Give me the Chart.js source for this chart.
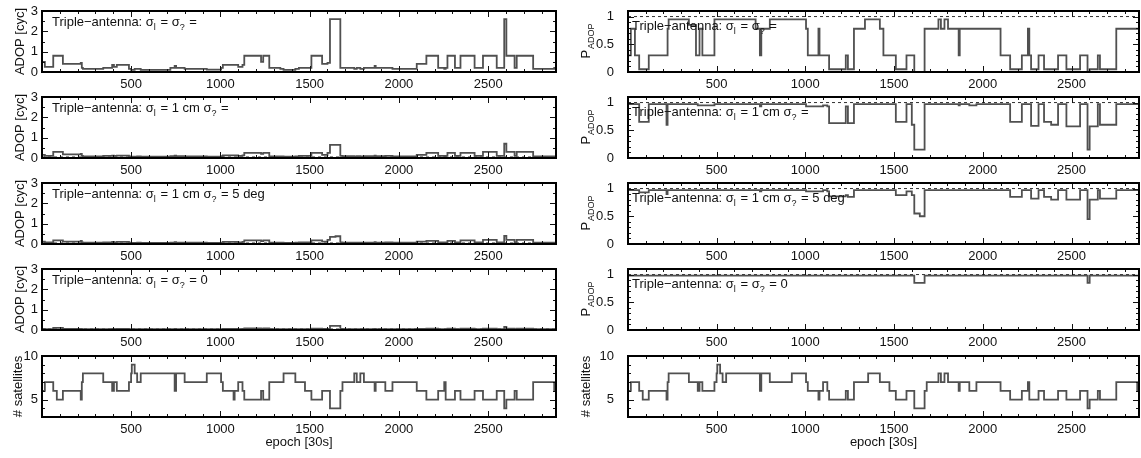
<!DOCTYPE html>
<html>
<head>
<meta charset="utf-8">
<script src="https://cdn.jsdelivr.net/npm/chart.js@4.4.1/dist/chart.umd.min.js"></script>
<style>
  html, body { margin: 0; padding: 0; background: #fff; }
  #wrap { position: relative; width: 1141px; height: 458px; overflow: hidden; }
  #wrap canvas { position: absolute; }
</style>
</head>
<body>
<div id="wrap"></div>
<script>
// epoch (30 s) at which each step begins; every series holds its value until the next one
const epochStart = [
  1, 17, 40, 64, 84, 118, 218, 224, 230, 344,
  384, 394, 404, 420, 488, 500, 504, 520, 534, 554,
  720, 744, 752, 800, 924, 1004, 1014, 1074, 1080, 1100,
  1124, 1134, 1228, 1240, 1274, 1336, 1354, 1420, 1440, 1474,
  1510, 1570, 1600, 1614, 1645, 1672, 1684, 1750, 1764, 1784,
  1804, 1864, 1870, 1924, 1964, 2100, 2154, 2220, 2254, 2262,
  2272, 2314, 2345, 2385, 2424, 2471, 2548, 2590, 2602, 2648,
  2660, 2752, 2870
];
const epochEnd = 2880;

const satellites = [
  6, 7, 7, 6, 5, 6, 5, 7, 8, 7,
  7, 6, 7, 6, 7, 8, 9, 8, 7, 8,
  8, 6, 8, 7, 8, 7, 6, 5, 6, 7,
  6, 5, 6, 5, 7, 7, 8, 7, 7, 6,
  5, 6, 6, 4, 4, 6, 7, 8, 7, 8,
  7, 6, 7, 6, 7, 6, 5, 6, 7, 5,
  5, 6, 5, 5, 6, 5, 6, 4, 5, 6,
  5, 7, 6
];

// ADOP [cyc]
const adopFree = [
  .5, .25, .25, .8, .8, .4, .45, .2, .15, .2,
  .2, .35, .25, .35, .15, .1, .1, .15, .15, .1,
  .2, .3, .2, .15, .12, .2, .35, .35, .35, .25,
  .35, .8, .5, .8, .2, .15, .1, .15, .2, .2,
  .8, .4, .45, 2.6, 2.6, .2, .2, .15, .2, .15,
  .2, .3, .2, .2, .15, .4, .8, .2, .15, .2,
  .8, .2, .8, .8, .2, .8, .2, 2.6, .8, .2,
  .8, .15, .2
];
const adop1cm = [
  .15, .1, .1, .3, .3, .18, .2, .1, .08, .1,
  .1, .12, .1, .12, .08, .07, .07, .07, .08, .07,
  .09, .12, .09, .08, .07, .09, .13, .13, .13, .1,
  .13, .25, .2, .25, .08, .08, .07, .08, .1, .1,
  .25, .15, .25, .65, .65, .1, .09, .08, .09, .08,
  .09, .12, .09, .1, .08, .15, .25, .1, .08, .1,
  .25, .1, .25, .25, .1, .3, .1, .7, .3, .1,
  .3, .08, .08
];
const adop1cm5deg = [
  .12, .08, .08, .18, .18, .12, .15, .08, .07, .08,
  .08, .1, .08, .1, .07, .06, .06, .06, .07, .06,
  .07, .09, .07, .07, .06, .07, .1, .1, .1, .08,
  .1, .18, .14, .18, .07, .07, .06, .07, .08, .08,
  .18, .12, .2, .35, .38, .08, .07, .07, .07, .07,
  .07, .09, .07, .08, .07, .12, .15, .08, .07, .08,
  .15, .08, .18, .18, .08, .2, .08, .4, .2, .08,
  .2, .07, .07
];
const adopExact = [
  .05, .04, .04, .1, .1, .05, .06, .04, .04, .04,
  .04, .05, .04, .05, .04, .04, .04, .04, .04, .04,
  .04, .05, .04, .04, .04, .04, .05, .05, .05, .04,
  .05, .08, .06, .08, .04, .04, .04, .04, .04, .04,
  .07, .05, .06, .2, .2, .05, .04, .04, .04, .04,
  .04, .05, .04, .04, .04, .05, .07, .04, .04, .04,
  .07, .04, .07, .07, .04, .07, .04, .15, .07, .04,
  .07, .04, .04
];
const adopRefLevel = 0.05;   // dashed line, constrained panels

// P_ADOP (success rate)
const pFree = [
  .3, .78, .3, .05, .05, .3, .3, .78, .95, .85,
  .3, .3, .78, .3, .95, .95, .95, .95, .95, .95,
  .78, .3, .78, .95, .95, .78, .3, .78, .3, .3,
  .3, .05, .3, .05, .78, .95, .95, .78, .3, .3,
  .05, .3, .3, 0, 0, .78, .78, .95, .78, .95,
  .78, .3, .78, .78, .78, .3, .05, .3, .78, .3,
  .05, .3, .05, .05, .3, .05, .3, 0, .05, .3,
  .05, .78, .78
];
const p1cm = [
  .97, .97, .97, .65, .65, .97, .6, .97, .97, .97,
  .97, .95, .95, .95, .97, .97, .97, .97, .97, .97,
  .97, .93, .97, .97, .97, .93, .93, .93, .93, .95,
  .93, .63, .93, .63, .97, .97, .97, .97, .97, .97,
  .65, .97, .6, .15, .15, .97, .97, .97, .97, .97,
  .97, .95, .97, .95, .97, .97, .65, .97, .97, .97,
  .58, .97, .65, .6, .97, .57, .97, .15, .57, .97,
  .6, .97, .97
];
const p1cm5deg = [
  .97, .97, .97, .93, .93, .97, .9, .97, .97, .97,
  .97, .97, .97, .97, .97, .97, .97, .97, .97, .97,
  .97, .95, .97, .97, .97, .95, .95, .95, .95, .97,
  .95, .86, .88, .85, .97, .97, .97, .97, .97, .97,
  .88, .95, .88, .55, .5, .97, .97, .97, .97, .97,
  .97, .97, .97, .97, .97, .97, .85, .97, .97, .97,
  .82, .97, .85, .8, .97, .8, .97, .45, .8, .97,
  .82, .97, .97
];
const pExact = [
  .98, .98, .98, .98, .98, .98, .98, .98, .98, .98,
  .98, .98, .98, .98, .98, .98, .98, .98, .98, .98,
  .98, .98, .98, .98, .98, .98, .98, .98, .98, .98,
  .98, .98, .98, .98, .98, .98, .98, .98, .98, .98,
  .98, .98, .98, .85, .85, .98, .98, .98, .98, .98,
  .98, .98, .98, .98, .98, .98, .98, .98, .98, .98,
  .98, .98, .98, .98, .98, .98, .98, .85, .98, .98,
  .98, .98, .98
];
const pRefLevel = 1;   // dashed line

const xTicks = [500, 1000, 1500, 2000, 2500];
const adopTicks = [0, 1, 2, 3];
const pTicks = [0, 0.5, 1];
const satTicks = [5, 10];

// panel labels: [text, subscript?]
const noteFree = [['Triple−antenna: σ'], ['l', 1], [' = σ'], ['?', 1], [' =']];
const note1cm = [['Triple−antenna: σ'], ['l', 1], [' = 1 cm σ'], ['?', 1], [' =']];
const note1cm5deg = [['Triple−antenna: σ'], ['l', 1], [' = 1 cm σ'], ['?', 1], [' = 5 deg']];
const noteExact = [['Triple−antenna: σ'], ['l', 1], [' = σ'], ['?', 1], [' = 0']];

const FONT = '"Liberation Sans", Arial, Helvetica, sans-serif';
const LINE = '#505050';

function steps(vals) {
  const pts = epochStart.map((x, i) => ({ x: x, y: vals[i] }));
  pts.push({ x: epochEnd, y: vals[vals.length - 1] });
  return pts;
}

// frame, inward ticks, tick labels and titles, IDL style
const framePlugin = {
  id: 'frame',
  afterDatasetsDraw(chart, args, o) {
    const ctx = chart.ctx, a = chart.chartArea;
    const x = chart.scales.x, y = chart.scales.y;
    ctx.save();
    ctx.strokeStyle = '#111';
    ctx.lineWidth = 1;
    ctx.beginPath();
    for (let v = 100; v < epochEnd; v += 100) {
      const px = Math.round(x.getPixelForValue(v)) + 0.5;
      const len = v % 500 === 0 ? 6 : 3;
      ctx.moveTo(px, a.bottom); ctx.lineTo(px, a.bottom - len);
      ctx.moveTo(px, a.top); ctx.lineTo(px, a.top + len);
    }
    const n = Math.round((y.max - y.min) / o.yMinor);
    for (let k = 1; k < n; k++) {
      const v = y.min + k * o.yMinor;
      const major = o.yMajor.some(m => Math.abs(m - v) < 1e-6);
      const py = Math.round(y.getPixelForValue(v)) + 0.5;
      const len = major ? 6 : 3;
      ctx.moveTo(a.left, py); ctx.lineTo(a.left + len, py);
      ctx.moveTo(a.right, py); ctx.lineTo(a.right - len, py);
    }
    ctx.stroke();
    ctx.lineWidth = 2;
    ctx.strokeStyle = '#000';
    ctx.strokeRect(a.left, a.top, a.right - a.left, a.bottom - a.top);

    ctx.fillStyle = '#111';
    ctx.font = '13px ' + FONT;
    // tick labels
    ctx.textBaseline = 'middle';
    ctx.textAlign = 'center';
    xTicks.forEach(v => ctx.fillText(String(v), x.getPixelForValue(v), a.bottom + 12));
    ctx.textAlign = 'right';
    o.yMajor.forEach(v => ctx.fillText(String(v), a.left - o.yPad, y.getPixelForValue(v)));
    ctx.textAlign = 'left';

    // panel note
    if (o.note) {
      ctx.textBaseline = 'alphabetic';
      let cx = a.left + o.noteDx;
      const by = a.top + o.noteDy;
      o.note.forEach(p => {
        ctx.font = (p[1] ? '9px ' : '13px ') + FONT;
        ctx.fillText(p[0], cx, p[1] ? by + 4 : by);
        cx += ctx.measureText(p[0]).width + (p[1] ? 1 : 0);
      });
    }
    // y title (rotated), optional subscript
    const cy = (a.top + a.bottom) / 2;
    ctx.translate(o.titleX, cy);
    ctx.rotate(-Math.PI / 2);
    ctx.textBaseline = 'middle';
    ctx.font = '13px ' + FONT;
    const w1 = ctx.measureText(o.title).width;
    let w2 = 0;
    if (o.titleSub) { ctx.font = '9px ' + FONT; w2 = ctx.measureText(o.titleSub).width; }
    const start = -(w1 + w2) / 2;
    ctx.font = '13px ' + FONT;
    ctx.fillText(o.title, start, 0);
    if (o.titleSub) {
      ctx.font = '9px ' + FONT;
      ctx.fillText(o.titleSub, start + w1 + 1, 6);
    }
    ctx.setTransform(1, 0, 0, 1, 0, 0);
    // x title on the last row
    if (o.xTitle) {
      ctx.font = '13px ' + FONT;
      ctx.textAlign = 'center';
      ctx.textBaseline = 'middle';
      ctx.fillText(o.xTitle, (a.left + a.right) / 2, a.bottom + 25);
    }
    ctx.restore();
  }
};

const rowTops = [11, 97, 183, 269, 356];
const plotH = 61;
const padTop = 10;

function panel(col, row, series, yMin, yMax, yTickVals, yMinor, title, titleSub, note, refLevel) {
  const last = row === 4;
  const left = col === 0;
  const cv = document.createElement('canvas');
  const W = left ? 560 : 581;
  const xH = last ? 40 : 22;
  const H = padTop + plotH + xH;
  cv.width = W; cv.height = H;
  cv.style.left = (left ? 0 : 560) + 'px';
  cv.style.top = (rowTops[row] - padTop) + 'px';
  cv.style.width = W + 'px'; cv.style.height = H + 'px';
  document.getElementById('wrap').appendChild(cv);

  const datasets = [{
    data: steps(series),
    stepped: true,
    borderColor: LINE,
    borderWidth: 1.8,
    pointRadius: 0,
    fill: false
  }];
  if (refLevel !== undefined) {
    datasets.push({
      data: [{ x: 1, y: refLevel }, { x: epochEnd, y: refLevel }],
      borderColor: '#333',
      borderWidth: 1,
      borderDash: [3, 3],
      pointRadius: 0,
      fill: false
    });
  }

  new Chart(cv, {
    type: 'line',
    data: { datasets: datasets },
    options: {
      responsive: false,
      animation: false,
      devicePixelRatio: 1,
      layout: { padding: { top: padTop, right: left ? 4 : 2, left: left ? 42 : 68, bottom: xH } },
      plugins: {
        legend: { display: false },
        tooltip: { enabled: false },
        frame: {
          yMajor: yTickVals, yMinor: yMinor, yPad: left ? 4 : 14,
          title: title, titleSub: titleSub,
          titleX: left ? (last ? 18 : 20) : 26,
          note: note, noteDx: left ? 10 : 4, noteDy: left ? 15 : 19,
          xTitle: last ? 'epoch [30s]' : null
        }
      },
      scales: {
        x: { type: 'linear', min: 1, max: epochEnd, display: false },
        y: { type: 'linear', min: yMin, max: yMax, display: false }
      }
    },
    plugins: [framePlugin]
  });
}

// left column: ADOP
panel(0, 0, adopFree, 0, 3, adopTicks, 0.5, 'ADOP [cyc]', null, noteFree);
panel(0, 1, adop1cm, 0, 3, adopTicks, 0.5, 'ADOP [cyc]', null, note1cm, adopRefLevel);
panel(0, 2, adop1cm5deg, 0, 3, adopTicks, 0.5, 'ADOP [cyc]', null, note1cm5deg, adopRefLevel);
panel(0, 3, adopExact, 0, 3, adopTicks, 0.5, 'ADOP [cyc]', null, noteExact, adopRefLevel);
panel(0, 4, satellites, 3, 10, satTicks, 1, '# satellites', null, null);

// right column: P_ADOP
panel(1, 0, pFree, 0, 1.1, pTicks, 0.1, 'P', 'ADOP', noteFree, pRefLevel);
panel(1, 1, p1cm, 0, 1.1, pTicks, 0.1, 'P', 'ADOP', note1cm, pRefLevel);
panel(1, 2, p1cm5deg, 0, 1.1, pTicks, 0.1, 'P', 'ADOP', note1cm5deg, pRefLevel);
panel(1, 3, pExact, 0, 1.1, pTicks, 0.1, 'P', 'ADOP', noteExact, pRefLevel);
panel(1, 4, satellites, 3, 10, satTicks, 1, '# satellites', null, null);
</script>
</body>
</html>
